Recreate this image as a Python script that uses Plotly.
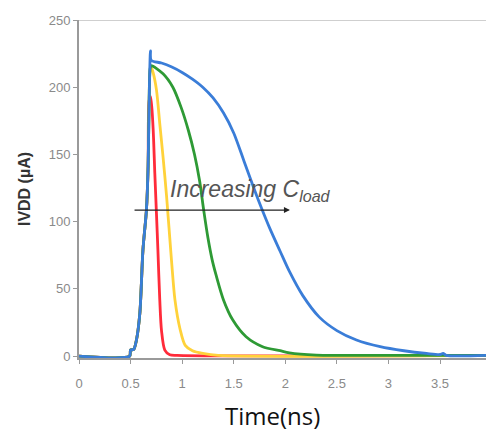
import plotly.graph_objects as go

# Shared rising edge (all curves), time in ns, current in uA
rise_t = [0.0, 0.49, 0.50, 0.53, 0.557, 0.59, 0.62, 0.654, 0.67, 0.68]
rise_i = [0.0, 0.0, 4.5, 5.0, 12.0, 32.0, 79.0, 109.0, 141.0, 190.0]

red_t = [0.695, 0.718, 0.735, 0.751, 0.765, 0.783, 0.80, 0.832, 0.88, 0.95, 3.95]
red_i = [193, 170, 136, 106, 79, 42, 19, 4.5, 1.0, 0.5, 0.5]

yellow_t = [0.69, 0.70, 0.718, 0.751, 0.783, 0.815, 0.848, 0.864, 0.88, 0.90, 0.93, 0.98, 1.03, 1.10, 1.20, 1.35, 3.95]
yellow_i = [213, 215, 211, 198, 173, 148, 120, 104, 88, 68, 42, 20, 8, 4, 2, 0.5, 0.5]

green_t = [0.69, 0.70, 0.815, 0.91, 0.99, 1.06, 1.12, 1.17, 1.21, 1.25, 1.29, 1.33, 1.40, 1.49, 1.62, 1.78, 1.95, 2.04, 2.30, 2.50, 3.95]
green_i = [214, 216, 210, 200, 185, 168, 150, 130, 108, 88, 72, 60, 42, 27, 14.4, 7, 4, 2.5, 0.8, 0.5, 0.5]

blue_t = [0.693, 0.70, 0.80, 0.90, 1.0, 1.1, 1.2, 1.3, 1.4, 1.5, 1.6, 1.7, 1.77, 1.85, 1.95, 2.04, 2.17, 2.33, 2.5, 2.69, 2.92, 3.15, 3.37, 3.5, 3.53, 3.56, 3.95]
blue_i = [227, 220, 218, 215, 211, 206, 200, 192, 181, 166, 145, 124, 110, 95, 78, 63, 45, 29, 19, 12, 7, 4, 2, 1.2, 2, 0.6, 0.6]

x_ticks = [0, 0.5, 1, 1.5, 2, 2.5, 3, 3.5]
x_tick_labels = ["0", "0.5", "1", "1.5", "2", "2.5", "3", "3.5"]
y_ticks = [0, 50, 100, 150, 200, 250]

series = [
    ("red", red_t, red_i, "#FF2B3A"),
    ("yellow", yellow_t, yellow_i, "#FFD23A"),
    ("green", green_t, green_i, "#2E9A35"),
    ("blue", blue_t, blue_i, "#3A7DD8"),
]

fig = go.Figure()
for name, t, i, c in series:
    fig.add_trace(go.Scatter(
        x=rise_t + t, y=rise_i + i, mode="lines", name=name,
        line=dict(color=c, width=2.8, shape="spline", smoothing=0.8),
        showlegend=False))

tick_font = dict(family="Liberation Sans, Arial", size=13, color="#8a8a8a")

fig.update_layout(
    width=486, height=432,
    margin=dict(l=79, r=0, t=20, b=74),
    paper_bgcolor="white", plot_bgcolor="white",
    xaxis=dict(range=[0, 3.946], tickvals=x_ticks, ticktext=x_tick_labels,
               showgrid=False, zeroline=False, showline=True, linecolor="#9a9a9a",
               linewidth=2, ticks="outside", ticklen=4, tickcolor="#9a9a9a",
               tickfont=tick_font, ticklabelstandoff=8, layer="below traces"),
    yaxis=dict(range=[-1.4, 250], tickvals=y_ticks, showgrid=False, zeroline=False,
               showline=True, linecolor="#9a9a9a", linewidth=2, ticks="outside",
               ticklen=4, tickcolor="#9a9a9a", tickfont=tick_font, layer="below traces",
               title=dict(text="<b>IVDD (µA)</b>", standoff=14,
                          font=dict(family="Liberation Sans, Arial", size=16, color="#333"))),
)

# top border line
fig.add_shape(type="line", xref="paper", yref="y", x0=0, x1=1, y0=250, y1=250,
              line=dict(color="#cfcfcf", width=2))

# arrow
fig.add_annotation(x=2.045, y=108.6, ax=0.524, ay=108.6, xref="x", yref="y",
                   axref="x", ayref="y", showarrow=True, arrowhead=2,
                   arrowsize=1, arrowwidth=1.2, arrowcolor="#222", text="")

# label
fig.add_annotation(x=0.86, y=123, xref="x", yref="y", xanchor="left", yanchor="middle",
                   showarrow=False,
                   text="<i>Increasing C<sub>load</sub></i>",
                   font=dict(family="Liberation Sans, Arial", size=23, color="#555"))

# x title
fig.add_annotation(x=(273 - 79.3) / 103.06, y=-(413 - 356) / 336, xref="x", yref="paper",
                   yanchor="middle", showarrow=False,
                   text="Time(ns)", font=dict(family="Open Sans", size=24, color="#111"))

fig.write_html("out.html")
